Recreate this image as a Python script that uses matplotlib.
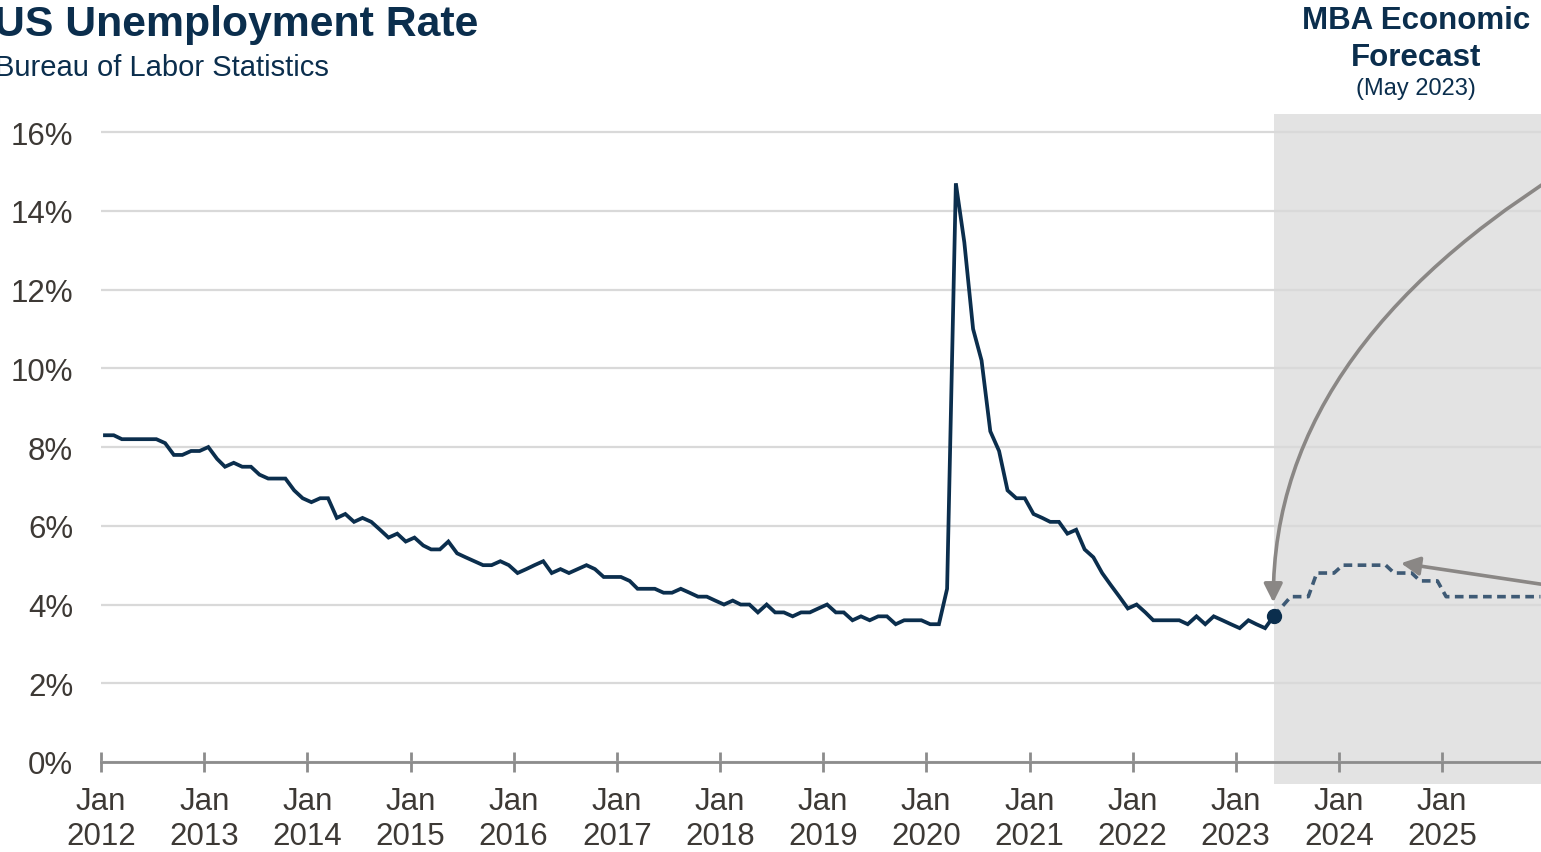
import pandas as pd
import matplotlib.pyplot as plt
import matplotlib.dates as mdates

plt.rcParams['font.family'] = ['Liberation Sans', 'DejaVu Sans']

# monthly unemployment rate (%), Jan 2012 - May 2023
rate_2012 = [8.3, 8.3, 8.2, 8.2, 8.2, 8.2, 8.2, 8.1, 7.8, 7.8, 7.9, 7.9]
rate_2013 = [8.0, 7.7, 7.5, 7.6, 7.5, 7.5, 7.3, 7.2, 7.2, 7.2, 6.9, 6.7]
rate_2014 = [6.6, 6.7, 6.7, 6.2, 6.3, 6.1, 6.2, 6.1, 5.9, 5.7, 5.8, 5.6]
rate_2015 = [5.7, 5.5, 5.4, 5.4, 5.6, 5.3, 5.2, 5.1, 5.0, 5.0, 5.1, 5.0]
rate_2016 = [4.8, 4.9, 5.0, 5.1, 4.8, 4.9, 4.8, 4.9, 5.0, 4.9, 4.7, 4.7]
rate_2017 = [4.7, 4.6, 4.4, 4.4, 4.4, 4.3, 4.3, 4.4, 4.3, 4.2, 4.2, 4.1]
rate_2018 = [4.0, 4.1, 4.0, 4.0, 3.8, 4.0, 3.8, 3.8, 3.7, 3.8, 3.8, 3.9]
rate_2019 = [4.0, 3.8, 3.8, 3.6, 3.7, 3.6, 3.7, 3.7, 3.5, 3.6, 3.6, 3.6]
rate_2020 = [3.5, 3.5, 4.4, 14.7, 13.2, 11.0, 10.2, 8.4, 7.9, 6.9, 6.7, 6.7]
rate_2021 = [6.3, 6.2, 6.1, 6.1, 5.8, 5.9, 5.4, 5.2, 4.8, 4.5, 4.2, 3.9]
rate_2022 = [4.0, 3.8, 3.6, 3.6, 3.6, 3.6, 3.5, 3.7, 3.5, 3.7, 3.6, 3.5]
rate_2023 = [3.4, 3.6, 3.5, 3.4, 3.7]

# MBA forecast (May 2023), monthly from Jul 2023
forecast = [4.2, 4.2, 4.2, 4.8, 4.8, 4.8,
            5.0, 5.0, 5.0, 5.0, 5.0, 5.0, 4.8, 4.8, 4.8, 4.6, 4.6, 4.6,
            4.2, 4.2, 4.2, 4.2, 4.2, 4.2, 4.2, 4.2, 4.2, 4.2, 4.2, 4.2]

y_ticks = [0, 2, 4, 6, 8, 10, 12, 14, 16]
x_years = [2012, 2013, 2014, 2015, 2016, 2017, 2018, 2019, 2020, 2021, 2022, 2023, 2024, 2025]

actual = (rate_2012 + rate_2013 + rate_2014 + rate_2015 + rate_2016 + rate_2017
          + rate_2018 + rate_2019 + rate_2020 + rate_2021 + rate_2022 + rate_2023)
act_dates = pd.date_range("2012-01-01", periods=len(actual), freq="MS") + pd.Timedelta(days=14)
fc_dates = pd.date_range("2023-07-01", periods=len(forecast), freq="MS") + pd.Timedelta(days=14)
fc_x = [act_dates[-1]] + list(fc_dates)
fc_y = [actual[-1]] + forecast

navy = "#0b2e4d"
W, H = 1541, 853
fig = plt.figure(figsize=(W / 100, H / 100), dpi=100)

x0 = pd.Timestamp("2012-01-01")
x1 = pd.Timestamp("2026-06-01")
px_per_day = 103.15 / 365.25
ax_w = (x1 - x0).days * px_per_day
ax = fig.add_axes([101 / W, (H - 763) / H, ax_w / W, (763 - 115) / H])
ax.set_xlim(x0, x1)
ax.set_ylim(0, 16.46)

# forecast period shading
ax.axvspan(act_dates[-1], x1, ymin=-22 / 648, ymax=1, color="#e3e3e3",
           lw=0, zorder=0, clip_on=False)

ax.set_yticks(y_ticks)
ax.set_yticklabels([f"{v}%" for v in y_ticks])
ax.grid(axis="y", color="#d9d9d9", lw=1.6, zorder=1)
ax.set_axisbelow(True)

ax.plot(act_dates, actual, color=navy, lw=2.7, zorder=3, solid_joinstyle="miter")
ax.plot(fc_x, fc_y, color="#3e5a75", lw=2.6, dashes=(2.4, 1.5), zorder=3)
ax.plot([act_dates[-1]], [actual[-1]], "o", color=navy, ms=10, zorder=4)

for s in ["top", "right", "left"]:
    ax.spines[s].set_visible(False)
ax.spines["bottom"].set_color("#8c8c8c")
ax.spines["bottom"].set_linewidth(2)

ax.set_xticks([pd.Timestamp(f"{y}-01-01") for y in x_years])
ax.xaxis.set_major_formatter(mdates.DateFormatter("%b\n%Y"))
ax.tick_params(axis="x", direction="inout", length=14, width=2, color="#8c8c8c",
               labelsize=22.5, labelcolor="#3d3935", pad=10)
ax.tick_params(axis="y", length=0, labelsize=22.5, labelcolor="#3d3935", pad=20)
for lbl in ax.get_xticklabels():
    lbl.set_linespacing(1.25)

# arrows pointing at the forecast
ax.annotate("", xy=(act_dates[-1], actual[-1]), xytext=(1600, H - 150),
            textcoords="figure pixels", annotation_clip=False,
            arrowprops=dict(arrowstyle="-|>", color="#8a8785", lw=2.6,
                            mutation_scale=28, shrinkA=0, shrinkB=10,
                            connectionstyle="angle3,angleA=30,angleB=92"))
ax.annotate("", xy=(pd.Timestamp("2024-08-08"), 5.05), xytext=(1640, H - 600),
            textcoords="figure pixels", annotation_clip=False,
            arrowprops=dict(arrowstyle="-|>", color="#8a8785", lw=2.6,
                            mutation_scale=28, shrinkA=0, shrinkB=0))

fig.text(-6 / W, (H - 36) / H, "US Unemployment Rate", fontsize=30.8, fontweight="bold",
         color=navy, va="baseline", ha="left")
fig.text(-5 / W, (H - 76) / H, "Bureau of Labor Statistics", fontsize=21,
         color=navy, va="baseline", ha="left")
fig.text(1416 / W, (H - 29) / H, "MBA Economic", fontsize=22.5, fontweight="bold",
         color=navy, va="baseline", ha="center")
fig.text(1416 / W, (H - 66) / H, "Forecast", fontsize=22.5, fontweight="bold",
         color=navy, va="baseline", ha="center")
fig.text(1416 / W, (H - 95) / H, "(May 2023)", fontsize=17, color=navy,
         va="baseline", ha="center")

fig.savefig("out.png", dpi=100)
